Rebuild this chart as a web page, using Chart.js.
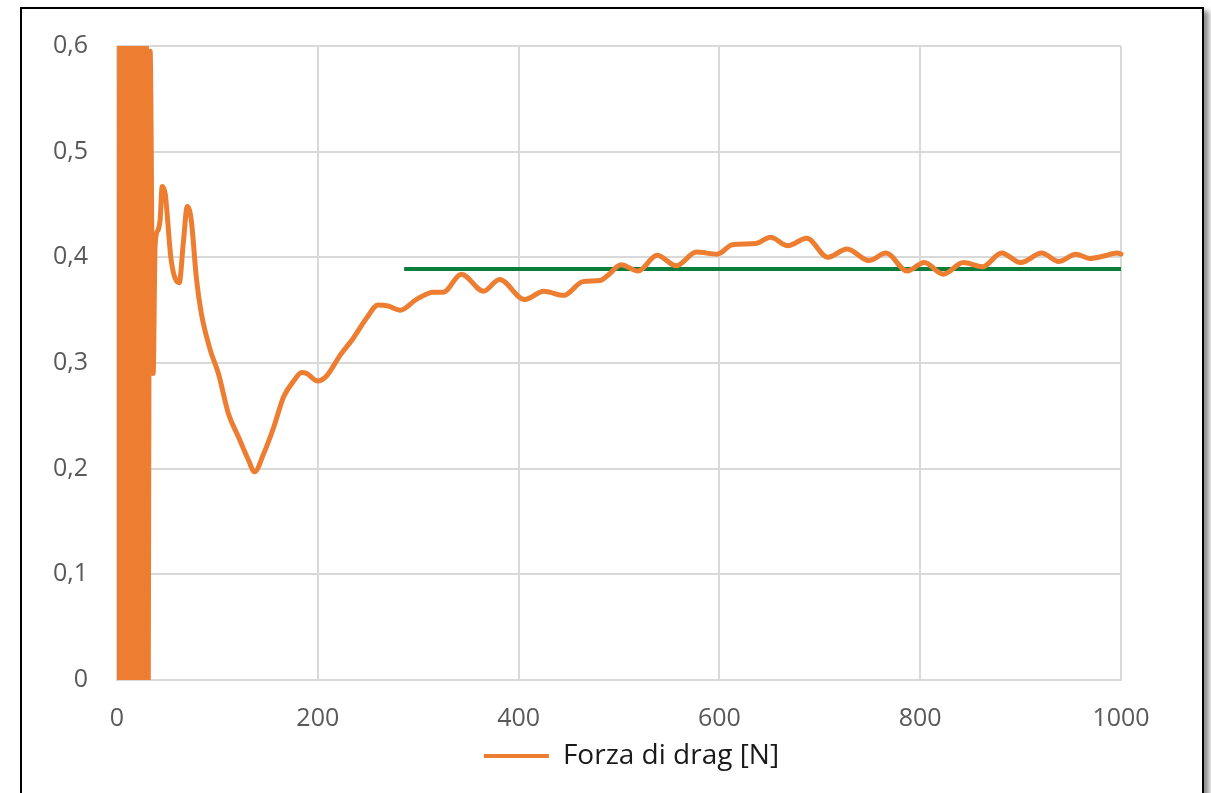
<!DOCTYPE html>
<html>
<head>
<meta charset="utf-8">
<script src="https://cdn.jsdelivr.net/npm/chart.js@4.4.1/dist/chart.umd.min.js"></script>
<style>
  html, body { margin: 0; padding: 0; background: #ffffff; width: 1211px; height: 793px; overflow: hidden; }
  #frame { position: absolute; left: 20px; top: 7px; width: 1180px; height: 900px; border: 2px solid #000; box-shadow: 5px 4px 5px rgba(0,0,0,0.45); background: #fff; }
  #c { position: absolute; left: 0; top: 0; }
</style>
</head>
<body>
<div id="frame"></div>
<canvas id="c" width="1211" height="793"></canvas>
<script>
// ---- data ----
const xTickLabels = ['0', '200', '400', '600', '800', '1000'];
const yTickLabels = ['0', '0,1', '0,2', '0,3', '0,4', '0,5', '0,6'];

// Forza di drag [N]: dense oscillation at the start (clipped by the axis range), then the smooth curve
const dragX = [2, 3, 4, 5, 6, 7, 8, 9, 10, 11, 12, 13, 14, 15, 16, 17, 18, 19, 20, 21, 22, 23, 24, 25, 26, 27, 28, 29, 30,
  33, 36, 38, 41, 43, 45, 48, 54, 62, 66, 70, 74, 79, 84, 93, 101, 111, 121, 131, 137, 146, 156, 166, 176, 184, 189,
  200, 209, 222, 235, 249, 260, 270, 282, 298, 315, 325, 343, 365, 381, 406, 425, 445, 464, 481, 489,
  502, 519, 538, 557, 577, 598, 613, 636, 651, 668, 687, 708, 727, 749, 766, 787, 804, 823, 843, 862,
  881, 900, 921, 938, 955, 969, 982, 996, 1000];
const dragY = [-0.3, 0.9, -0.3, 0.9, -0.3, 0.9, -0.3, 0.9, -0.3, 0.9, -0.3, 0.9, -0.3, 0.9, -0.3, 0.9, -0.3, 0.9, -0.3, 0.9, -0.3, 0.9, -0.3, 0.9, -0.3, 0.9, -0.3, 0.9, -0.3,
  0.595, 0.290, 0.412, 0.426, 0.436, 0.467, 0.460, 0.397, 0.376, 0.413, 0.448, 0.435, 0.381, 0.347, 0.312, 0.290, 0.252, 0.230, 0.208, 0.197, 0.214, 0.239, 0.268, 0.283, 0.291, 0.290,
  0.283, 0.288, 0.307, 0.323, 0.343, 0.355, 0.354, 0.350, 0.360, 0.367, 0.367, 0.384, 0.368, 0.379, 0.360, 0.368, 0.364, 0.377, 0.378, 0.383,
  0.393, 0.387, 0.402, 0.392, 0.405, 0.403, 0.412, 0.413, 0.419, 0.411, 0.418, 0.400, 0.408, 0.397, 0.404, 0.387, 0.395, 0.384, 0.395, 0.391,
  0.404, 0.395, 0.404, 0.396, 0.403, 0.399, 0.401, 0.404, 0.403];

// mean value line
const meanX = [286, 1000];
const meanY = [0.389, 0.389];

const ORANGE = '#ED7D31';
const GREEN = '#0B7D3A';
const TICK_COLOR = '#595959';
const FONT = "'Open Sans', 'Noto Sans', sans-serif";

const dragData = dragX.map((x, i) => ({ x: x, y: dragY[i] }));
const meanData = meanX.map((x, i) => ({ x: x, y: meanY[i] }));

const legendShift = {
  id: 'legendShift',
  afterLayout(chart) {
    if (chart.legend) { chart.legend.left += 71; chart.legend.right += 71; }
  }
};

new Chart(document.getElementById('c'), {
  type: 'line',
  data: {
    datasets: [
      {
        label: 'Forza di drag [N]',
        data: dragData,
        borderColor: ORANGE,
        backgroundColor: ORANGE,
        borderWidth: 5,
        borderCapStyle: 'round',
        borderJoinStyle: 'round',
        pointRadius: 0,
        cubicInterpolationMode: 'monotone',
        fill: false,
        clip: { left: 0, top: 0, bottom: 0, right: 5 }
      },
      {
        label: 'media',
        data: meanData,
        borderColor: GREEN,
        backgroundColor: GREEN,
        borderWidth: 4,
        pointRadius: 0,
        fill: false
      }
    ]
  },
  plugins: [legendShift],
  options: {
    responsive: false,
    animation: false,
    events: [],
    layout: { padding: { left: 0, top: 46, right: 90, bottom: 13 } },
    plugins: {
      tooltip: { enabled: false },
      legend: {
        position: 'bottom',
        labels: {
          font: { family: FONT, size: 28 },
          color: '#1a1a1a',
          boxWidth: 65,
          boxHeight: 4,
          padding: 8,
          filter: (item) => item.datasetIndex === 0,
          generateLabels: (chart) => {
            const items = Chart.defaults.plugins.legend.labels.generateLabels(chart);
            items.forEach(it => { it.lineWidth = 0; it.fillStyle = ORANGE; });
            return items;
          }
        }
      }
    },
    scales: {
      x: {
        type: 'linear',
        min: 0,
        max: 1000,
        afterFit: (s) => { s.height = 54; },
        grid: { color: '#d9d9d9', lineWidth: 2, drawTicks: false },
        border: { display: true, color: '#d9d9d9', width: 2 },
        ticks: {
          stepSize: 200,
          autoSkip: false,
          maxRotation: 0,
          padding: 24,
          color: TICK_COLOR,
          font: { family: FONT, size: 25 },
          callback: (v, i) => xTickLabels[i]
        }
      },
      y: {
        min: 0,
        max: 0.6,
        afterFit: (s) => { s.width = 117; },
        grid: { color: '#d9d9d9', lineWidth: 2, drawTicks: false },
        border: { display: false },
        ticks: {
          stepSize: 0.1,
          padding: 29,
          color: TICK_COLOR,
          font: { family: FONT, size: 25 },
          callback: (v, i) => yTickLabels[i]
        }
      }
    }
  }
});
</script>
</body>
</html>
